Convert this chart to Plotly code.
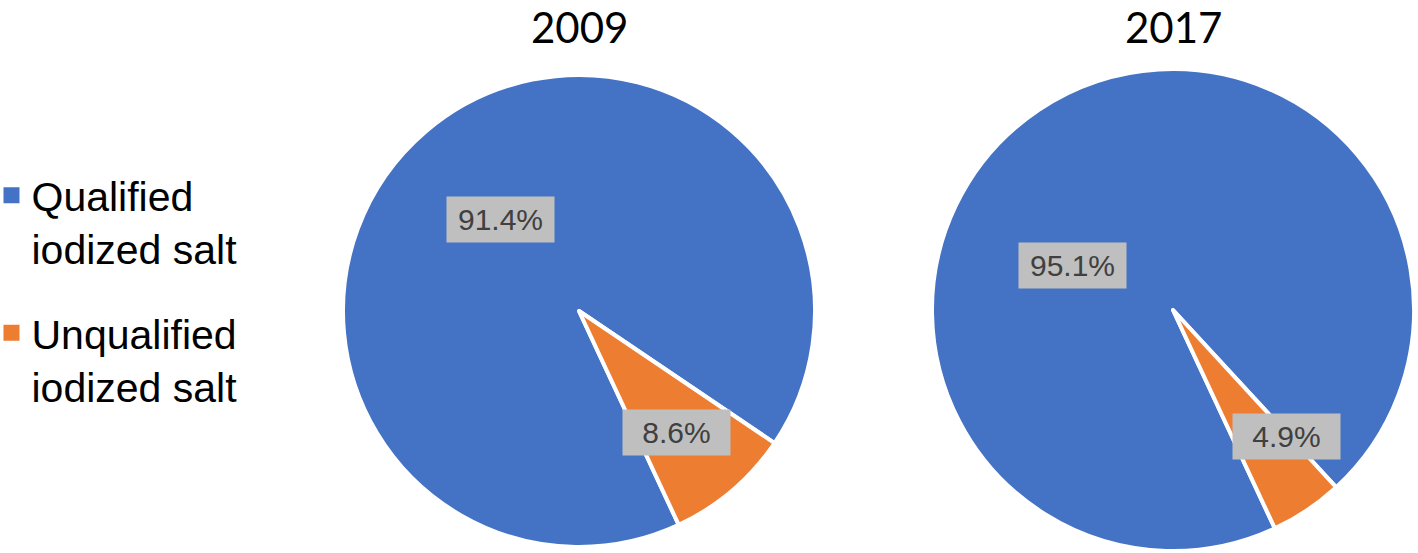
import math
import plotly.graph_objects as go

years = ["2009", "2017"]
labels = ["Qualified<br>iodized salt", "Unqualified<br>iodized salt"]
values_2009 = [91.4, 8.6]
values_2017 = [95.1, 4.9]
colors = ["#4472C4", "#ED7D31"]

W, H = 1418, 553
# pie geometry in pixels (center x, center y from top, radius)
pies = [
    dict(cx=579, cy=311, r=236, values=values_2009, year=years[0]),
    dict(cx=1173, cy=310, r=241, values=values_2017, year=years[1]),
]
rotation = 155
# label placement style: (angle offset from slice mid in deg, radius fraction)
label_style = [
    [(0, 0.51), (1.5, 0.66)],
    [(-32, 0.455), (-8, 0.705)],
]

fig = go.Figure()
annotations = []
for k, p in enumerate(pies):
    dom_x = [(p["cx"] - p["r"]) / W, (p["cx"] + p["r"]) / W]
    dom_y = [(H - p["cy"] - p["r"]) / H, (H - p["cy"] + p["r"]) / H]
    fig.add_trace(go.Pie(
        labels=labels, values=p["values"], sort=False,
        direction="clockwise", rotation=rotation,
        marker=dict(colors=colors, line=dict(color="white", width=4)),
        textinfo="none", hoverinfo="label+percent",
        domain=dict(x=dom_x, y=dom_y), showlegend=False,
    ))
    total = sum(p["values"])
    start = rotation
    for i, v in enumerate(p["values"]):
        span = v / total * 360
        off, frac = label_style[k][i]
        mid = math.radians(start + span / 2 + off)
        px = p["cx"] + frac * p["r"] * math.sin(mid)
        py = p["cy"] - frac * p["r"] * math.cos(mid)
        annotations.append(dict(
            x=px / W, y=1 - py / H, xref="paper", yref="paper",
            xanchor="center", yanchor="middle",
            text=f"{v:.1f}%", showarrow=False,
            font=dict(family="Liberation Sans, Arial", size=30, color="#404040"),
            bgcolor="#BFBFBF", width=107, height=45, borderpad=0,
        ))
        start += span
    annotations.append(dict(
        x=p["cx"] / W, y=1, xref="paper", yref="paper",
        text=p["year"], showarrow=False, xanchor="center", yanchor="top",
        font=dict(family="Lato, Carlito, sans-serif", size=42, color="black"),
    ))

# legend entries as square markers
for lab, col in zip(labels, colors):
    fig.add_trace(go.Scatter(
        x=[None], y=[None], mode="markers", name=lab, legendgroup=lab,
        marker=dict(symbol="square", size=16, color=col),
        showlegend=True, hoverinfo="skip",
    ))

fig.update_layout(
    width=W, height=H,
    margin=dict(l=0, r=0, t=0, b=0, autoexpand=False),
    paper_bgcolor="white", plot_bgcolor="white",
    xaxis=dict(visible=False), yaxis=dict(visible=False),
    annotations=annotations,
    legend=dict(x=-0.006, y=1 - 162 / H, xanchor="left", yanchor="top",
                font=dict(family="Liberation Sans, Arial", size=41, color="black"),
                valign="top", tracegroupgap=28, itemwidth=30,
                bgcolor="rgba(0,0,0,0)"),
)
fig.write_html("out.html", config={"displayModeBar": False},
               post_script="document.body.style.margin='0px';")
